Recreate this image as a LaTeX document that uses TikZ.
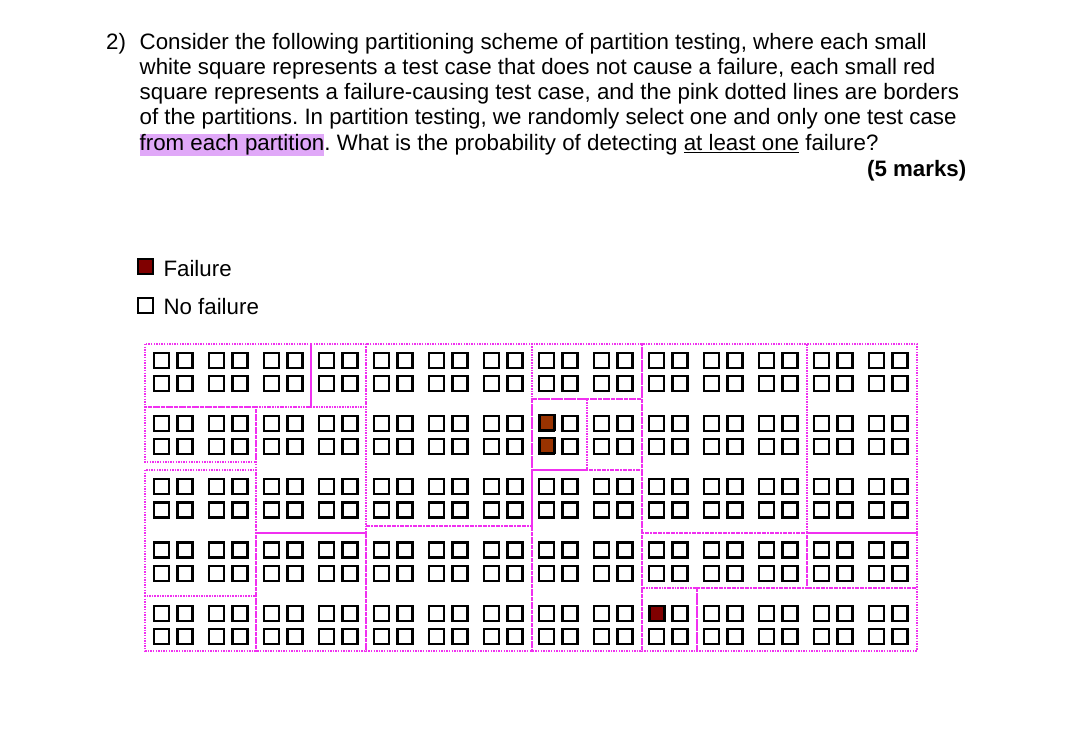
\documentclass[tikz,border=0pt]{standalone}
\usepackage{fontspec}
\setmainfont{Liberation Sans}
\frenchspacing
\definecolor{pinkline}{HTML}{F030F0}
\definecolor{hl}{HTML}{E0A8F8}
\definecolor{failA}{HTML}{993300}
\definecolor{failB}{HTML}{800000}
\tikzset{
  txt/.style={anchor=base west, inner sep=0pt, font=\fontsize{22.3}{25}\selectfont},
  part/.style={draw=pinkline, line width=2pt, dash pattern=on 1.4pt off 1.2pt},
  tc/.style={draw=black, line width=2.2pt, fill=white},
  tcfail/.style={draw=black, line width=2.2pt, fill=#1},
}
\begin{document}
\begin{tikzpicture}[x=1pt,y=-1pt]
\useasboundingbox[fill=white] (0,0) rectangle (1073,743);
% question text
\node[txt] (num) at (106,49.3) {2)};
\node[txt] (l1) at (139.5,49.3) {Consider the following partitioning scheme of partition testing, where each small};
\node[txt] (l2) at (139.5,74.5) {white square represents a test case that does not cause a failure, each small red};
\node[txt] (l3) at (139.5,99.7) {square represents a failure-causing test case, and the pink dotted lines are borders};
\node[txt] (l4) at (139.5,124.9) {of the partitions. In partition testing, we randomly select one and only one test case};
\node[txt] (l5) at (139.5,150.1) {{\setlength{\fboxsep}{0pt}\colorbox{hl}{\rule[-5.7pt]{0pt}{20.7pt}from each partition}}. What is the probability of detecting \underline{at least one} failure?};
\node[txt, anchor=base east] (marks) at (966.5,176.7) {\bfseries (5 marks)};
% legend
\draw[tcfail=failB] (138.3,259.3) rectangle (153.3,274.3);
\node[txt] (lf) at (163.3,276.7) {Failure};
\draw[tc, line width=2pt] (138.3,297.7) rectangle (153.3,312.7);
\node[txt] (lnf) at (163.3,314.3) {No failure};
% test cases
\foreach \c in {0,...,13}
 \foreach \a in {0,1}
  \foreach \r in {0,...,4}
   \foreach \b in {0,1} {
     \pgfmathsetmacro{\xx}{153.1+55*\c+23.3*\a+1.1}
     \pgfmathsetmacro{\yy}{351.5+63.3*\r+23.3*\b+1.1}
     \draw[tc] (\xx,\yy) rectangle ++(15,15);
   }
% failure-causing test cases
\draw[tcfail=failA] (539.5,415.0) rectangle ++(15,15);
\draw[tcfail=failA] (539.5,438.3) rectangle ++(15,15);
\draw[tcfail=failB] (649.5,605.9) rectangle ++(15,15);
% partitions
\draw[part] (145.3,344) rectangle (311,406.7);
\draw[part] (311,344) rectangle (366,406.7);
\draw[part] (366,344) rectangle (531.5,525.7);
\draw[part] (531.5,344) rectangle (641.7,399.3);
\draw[part] (641.7,344) rectangle (806.7,532.7);
\draw[part] (806.7,344) rectangle (916.7,532.7);
\draw[part] (145.3,406.7) rectangle (255.7,462.3);
\draw[part] (255.7,406.7) rectangle (366,532.7);
\draw[part] (531.5,399.3) rectangle (586.7,470);
\draw[part] (586.7,399.3) rectangle (641.7,470);
\draw[part] (145.3,470) rectangle (255.7,596);
\draw[part] (531.5,470) rectangle (641.7,650.7);
\draw[part] (255.7,532.7) rectangle (366,650.7);
\draw[part] (366,525.7) rectangle (531.5,650.7);
\draw[part] (641.7,532.7) rectangle (806.7,588.3);
\draw[part] (806.7,532.7) rectangle (916.7,588.3);
\draw[part] (145.3,596) rectangle (255.7,650.7);
\draw[part] (641.7,588.3) rectangle (696.7,650.7);
\draw[part] (696.7,588.3) rectangle (916.7,650.7);
\end{tikzpicture}
\end{document}
